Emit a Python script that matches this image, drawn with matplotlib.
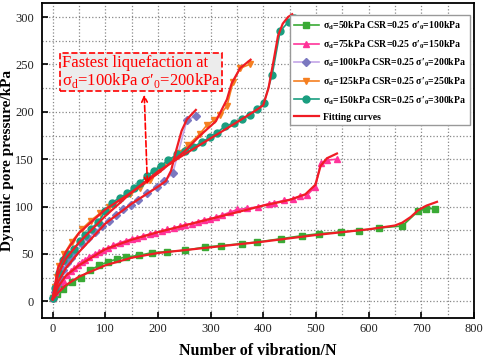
import matplotlib
matplotlib.use("Agg")
import matplotlib.pyplot as plt
from matplotlib.patches import Rectangle
from matplotlib.ticker import MultipleLocator

plt.rcParams['font.family'] = ['Liberation Serif', 'DejaVu Serif']
plt.rcParams['mathtext.fontset'] = 'custom'
plt.rcParams['mathtext.rm'] = 'Liberation Serif'
plt.rcParams['mathtext.bf'] = 'Liberation Serif:bold'

x50 = [0, 9, 19, 36, 53, 71, 89, 106, 123, 139, 164, 189, 218, 252, 290, 320, 360, 389,
       434, 474, 506, 548, 581, 620, 664, 694, 710, 726]
y50 = [3, 8, 13, 20, 25, 33, 38, 42, 44.7, 46.8, 48.5, 51.4, 52.4, 53.8, 57.4, 58.8, 60.9, 62.6,
       66.1, 69.3, 71.4, 73.2, 74.6, 77.4, 79.5, 95, 97.8, 97.8]

x75 = [0, 5, 10, 15, 20, 28, 35, 41, 48, 55, 62, 70, 80, 88, 96, 105, 115, 128, 140, 150,
       160, 172, 184, 195, 207, 218, 230, 241, 252, 264, 276, 288, 299, 311, 322, 337, 351,
       370, 391, 410, 421, 439, 457, 470, 484, 499, 509, 521, 540]
y75 = [3, 10, 15, 20, 23, 28, 32, 35, 38, 42, 44, 47, 50, 52, 54, 56, 59, 62, 64, 66,
       67, 69, 71, 72, 74, 76, 77, 79, 81, 82, 84, 86, 87, 89, 91, 94, 97,
       98, 100, 103, 104, 106.5, 108, 111, 112.5, 121, 146, 149, 150]

x100 = [0, 4, 9, 14, 20, 27, 35, 43, 55, 68, 80, 93, 107, 121, 134, 148, 163, 180, 198,
        212, 228, 255, 272]
y100 = [3, 10, 18, 26, 33, 40, 46, 52, 60, 67, 73, 79, 85, 91, 97, 102, 107, 114, 121,
        127, 135, 191, 196]

x125 = [0, 4, 8, 13, 22, 36, 55, 72, 90, 108, 128, 147, 166, 184, 204, 222, 240, 258,
        280, 293, 306, 318, 331, 343, 356, 374]
y125 = [3, 15, 26, 37, 50, 63, 76, 85, 93, 100, 107, 113, 120, 128, 140, 148, 157, 165,
        177, 186, 191, 197, 206, 232, 246, 250]

x150 = [0, 5, 12, 20, 30, 40, 52, 62, 72, 87, 100, 112, 127, 142, 155, 166, 179, 192, 205,
        220, 236, 251, 267, 283, 299, 312, 328, 344, 359, 375, 389, 401, 417, 432, 448, 458]
y150 = [3, 14, 30, 44, 50, 55, 64, 70, 76, 84, 95, 104, 109, 114, 120, 125, 132, 138, 143,
        149, 155, 159, 163, 168, 173, 178, 185, 188, 192, 197, 203, 209, 239, 285, 295, 299]

# --- fitting curves ---
fx50 = [0, 10, 25, 50, 100, 150, 200, 300, 400, 500, 600, 650, 664, 680, 694, 710, 730]
fy50 = [2, 9, 17, 26, 38, 46, 51, 57, 63, 70, 76, 80, 83, 89, 96, 101, 105]

fx75 = [0, 10, 25, 50, 100, 150, 200, 250, 300, 350, 400, 450, 480, 499, 509, 521, 540]
fy75 = [2, 15, 27, 38, 55, 65, 73, 80, 87, 94, 101, 107, 113, 123, 143, 151, 156]

fx100 = [0, 10, 25, 50, 100, 150, 200, 215, 225, 235, 245, 255, 272]
fy100 = [2, 20, 35, 52, 82, 103, 121, 127, 138, 160, 180, 192, 202]

fx125 = [0, 10, 25, 50, 100, 150, 200, 250, 280, 310, 331, 340, 356, 376]
fy125 = [3, 35, 52, 72, 97, 115, 135, 158, 175, 190, 213, 230, 246, 255]

fx150 = [0, 10, 25, 50, 100, 150, 200, 250, 300, 350, 390, 400, 410, 420, 428, 437, 447, 455]
fy150 = [3, 28, 45, 62, 90, 115, 137, 155, 172, 189, 203, 207, 225, 255, 280, 293, 300, 303]

labels = [
    r'σ$_\mathbf{d}$=50kPa CSR=0.25 σ′$_\mathbf{0}$=100kPa',
    r'σ$_\mathbf{d}$=75kPa CSR=0.25 σ′$_\mathbf{0}$=150kPa',
    r'σ$_\mathbf{d}$=100kPa CSR=0.25 σ′$_\mathbf{0}$=200kPa',
    r'σ$_\mathbf{d}$=125kPa CSR=0.25 σ′$_\mathbf{0}$=250kPa',
    r'σ$_\mathbf{d}$=150kPa CSR=0.25 σ′$_\mathbf{0}$=300kPa',
]

fig = plt.figure(figsize=(4.84, 3.58), dpi=100)
ax = fig.add_axes([0.087, 0.112, 0.892, 0.880])

# data series
series = [
    (x50, y50, '#3aaa35', '#3aaa35', 's', 4.5),
    (x75, y75, '#ff3399', '#ff3399', '^', 5),
    (x100, y100, '#c3a5e8', '#7b78c0', 'D', 4),
    (x125, y125, '#f57f20', '#f57f20', 'v', 5),
    (x150, y150, '#1a9e80', '#1a9e80', 'o', 5),
]
handles = []
for (xs, ys, lc, mc, mk, ms), lab in zip(series, labels):
    h, = ax.plot(xs, ys, color=lc, lw=1.2, marker=mk, ms=ms, mfc=mc, mec=mc, label=lab, zorder=3)
    handles.append(h)

fit_color = '#f01c24'
for fx, fy in [(fx50, fy50), (fx75, fy75), (fx100, fy100), (fx125, fy125), (fx150, fy150)]:
    hf, = ax.plot(fx, fy, color=fit_color, lw=1.6, label='Fitting curves', zorder=4)
handles.append(hf)

ax.set_xlim(-20, 800)
ax.set_ylim(-17.5, 315)
ax.xaxis.set_major_locator(MultipleLocator(100))
ax.xaxis.set_minor_locator(MultipleLocator(50))
ax.yaxis.set_major_locator(MultipleLocator(50))
ax.yaxis.set_minor_locator(MultipleLocator(25))
ax.grid(which='both', linestyle=':', color='#888888', linewidth=0.9)
ax.tick_params(which='major', direction='in', length=4, width=1.2, labelsize=9,
               labelcolor='#222222')
ax.tick_params(axis='y', which='major', pad=6)
ax.tick_params(which='minor', length=0)
for sp in ax.spines.values():
    sp.set_linewidth(1.3)

ax.set_xlabel('Number of vibration/N', fontsize=11.5, fontweight='bold', labelpad=6)
ax.set_ylabel('Dynamic pore pressure/kPa', fontsize=11, fontweight='bold')
ax.yaxis.set_label_coords(-0.064, 0.5)

leg = ax.legend(handles=handles, loc='upper right', bbox_to_anchor=(0.991, 0.96),
                borderaxespad=0, fancybox=False, edgecolor='#999999', framealpha=1,
                prop={'weight': 'bold', 'size': 7}, handlelength=2.6, labelspacing=0.6,
                handletextpad=0.4, borderpad=0.4)
leg.get_frame().set_linewidth(1.0)

# annotation box
ax.add_patch(Rectangle((14, 221.5), 307, 41, facecolor='#ececec', edgecolor='red',
                       linestyle='--', lw=1.2, zorder=5))
ax.text(17, 252, 'Fastest liquefaction at', color='red', fontsize=12,
        ha='left', va='center', zorder=6)
ax.text(17, 233, r'σ$_\mathregular{d}$=100kPa σ′$_\mathregular{0}$=200kPa', color='red',
        fontsize=12, ha='left', va='center', zorder=6)
ax.annotate('', xy=(180, 123), xytext=(174, 218),
            arrowprops=dict(arrowstyle='<->', linestyle='--', color='red', lw=1.2,
                            shrinkA=0, shrinkB=0), zorder=6)

fig.savefig('out.png', dpi=100)
